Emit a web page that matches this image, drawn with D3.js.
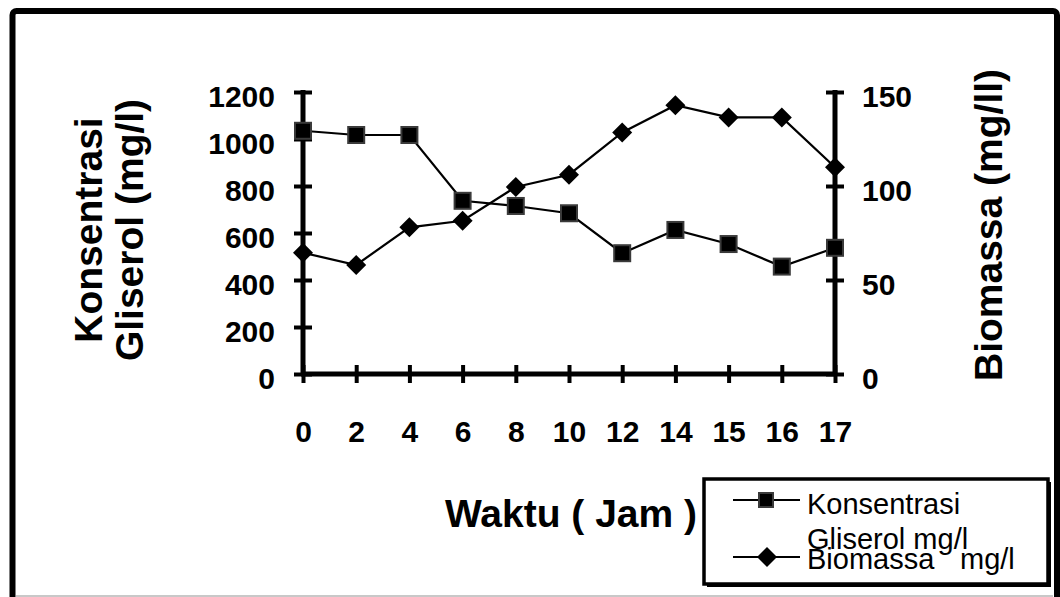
<!DOCTYPE html>
<html>
<head>
<meta charset="utf-8">
<script src="https://cdn.jsdelivr.net/npm/d3@7"></script>
<style>
  html, body { margin: 0; padding: 0; background: #fff; }
  svg { display: block; font-family: "Liberation Sans", Arial, sans-serif; }
</style>
</head>
<body>
<svg id="chart" width="1060" height="597"></svg>
<script>
// ---- data ----
const categories = ["0", "2", "4", "6", "8", "10", "12", "14", "15", "16", "17"];
const gliserol = [1035, 1017, 1017, 737, 715, 684, 514, 613, 553, 457, 537];
const biomassa = [64.5, 58, 78, 81.5, 99.5, 106, 128.5, 143, 136.5, 136.5, 110];
const leftTicks = [0, 200, 400, 600, 800, 1000, 1200];
const rightTicks = [0, 50, 100, 150];
const leftTitle = ["Konsentrasi", "Gliserol (mg/l)"];
const rightTitle = "Biomassa (mg/ll)";
const xTitle = "Waktu ( Jam )";
const legendLabels = ["Konsentrasi", "Gliserol mg/l", "Biomassa", "mg/l"];

// ---- layout ----
const L = 303, R = 835, T = 92, B = 374;
const svg = d3.select("#chart");
const tf = "'Liberation Sans', Arial, sans-serif";

// outer frame
svg.append("rect").attr("x", 12.5).attr("y", 11).attr("width", 1044.5).attr("height", 620)
  .attr("rx", 4).attr("fill", "none").attr("stroke", "#000").attr("stroke-width", 6);
svg.append("line").attr("x1", 16).attr("x2", 1053).attr("y1", 596).attr("y2", 596)
  .attr("stroke", "#c8c8c8").attr("stroke-width", 2);

const x = d3.scalePoint().domain(categories).range([L, R]);
const yL = d3.scaleLinear().domain([0, 1200]).range([B, T]);
const yR = d3.scaleLinear().domain([0, 150]).range([B, T]);

const axisW = 5, tickHalf = 9;

function styleAxis(g, horizontal) {
  g.select(".domain").remove();
  g.selectAll(".tick line").attr("stroke", "#000").attr("stroke-width", 4);
  if (horizontal) g.selectAll(".tick line").attr("y1", -tickHalf).attr("y2", tickHalf);
  else g.selectAll(".tick line").attr("x1", -tickHalf).attr("x2", tickHalf);
  g.selectAll(".tick text").attr("font-size", 30).attr("font-weight", "bold").attr("fill", "#000")
    .attr("font-family", tf);
}

// left axis
const gL = svg.append("g").attr("transform", `translate(${L},0)`)
  .call(d3.axisLeft(yL).tickValues(leftTicks).tickFormat(d3.format("d")).tickSize(0).tickPadding(28));
styleAxis(gL, false);
gL.selectAll(".tick text").attr("dy", "0.48em");
gL.append("line").attr("x1", 0).attr("x2", 0).attr("y1", T - 2).attr("y2", B + 2)
  .attr("stroke", "#000").attr("stroke-width", axisW);

// right axis
const gR = svg.append("g").attr("transform", `translate(${R},0)`)
  .call(d3.axisRight(yR).tickValues(rightTicks).tickFormat(d3.format("d")).tickSize(0).tickPadding(27));
styleAxis(gR, false);
gR.selectAll(".tick text").attr("dy", "0.48em");
gR.append("line").attr("x1", 0).attr("x2", 0).attr("y1", T - 2).attr("y2", B + 2)
  .attr("stroke", "#000").attr("stroke-width", axisW);

// bottom axis
const gB = svg.append("g").attr("transform", `translate(0,${B})`)
  .call(d3.axisBottom(x).tickSize(0).tickPadding(68));
styleAxis(gB, true);
gB.selectAll(".tick text").attr("dy", "0");
gB.append("line").attr("x1", L - 2).attr("x2", R + 2).attr("y1", 0).attr("y2", 0)
  .attr("stroke", "#000").attr("stroke-width", axisW);

// series: gliserol (squares)
const lineL = d3.line().x((d, i) => x(categories[i])).y(d => yL(d));
svg.append("path").datum(gliserol).attr("d", lineL)
  .attr("fill", "none").attr("stroke", "#000").attr("stroke-width", 2.2);
const sq = 16;
svg.append("g").selectAll("rect").data(gliserol).join("rect")
  .attr("x", (d, i) => x(categories[i]) - sq / 2).attr("y", d => yL(d) - sq / 2)
  .attr("width", sq).attr("height", sq)
  .attr("fill", "#000").attr("stroke", "#3a3a3a").attr("stroke-width", 2);

// series: biomassa (diamonds)
const lineR = d3.line().x((d, i) => x(categories[i])).y(d => yR(d));
svg.append("path").datum(biomassa).attr("d", lineR)
  .attr("fill", "none").attr("stroke", "#000").attr("stroke-width", 2.2);
const dh = 10;
const diamond = (cx, cy) => `M${cx},${cy - dh}L${cx + dh},${cy}L${cx},${cy + dh}L${cx - dh},${cy}Z`;
svg.append("g").selectAll("path").data(biomassa).join("path")
  .attr("d", (d, i) => diamond(x(categories[i]), yR(d)))
  .attr("fill", "#000");

// axis titles
const titleSize = 39;
svg.append("text").attr("transform", "translate(102,230) rotate(-90)")
  .attr("text-anchor", "middle").attr("font-size", titleSize).attr("font-weight", "bold")
  .attr("font-family", tf).text(leftTitle[0]);
svg.append("text").attr("transform", "translate(143,230) rotate(-90)")
  .attr("text-anchor", "middle").attr("font-size", titleSize).attr("font-weight", "bold")
  .attr("font-family", tf).text(leftTitle[1]);
svg.append("text").attr("transform", "translate(1002,225) rotate(-90)")
  .attr("text-anchor", "middle").attr("font-size", titleSize).attr("font-weight", "bold")
  .attr("font-family", tf).text(rightTitle);
svg.append("text").attr("x", 571).attr("y", 527)
  .attr("text-anchor", "middle").attr("font-size", titleSize).attr("font-weight", "bold")
  .attr("font-family", tf).text(xTitle);

// legend
const lg = svg.append("g");
lg.append("rect").attr("x", 707).attr("y", 482).attr("width", 344).attr("height", 105)
  .attr("fill", "#000");
lg.append("rect").attr("x", 704).attr("y", 479).attr("width", 344).attr("height", 105)
  .attr("fill", "#fff").attr("stroke", "#000").attr("stroke-width", 3.5);
lg.append("line").attr("x1", 733).attr("x2", 800).attr("y1", 500).attr("y2", 500)
  .attr("stroke", "#000").attr("stroke-width", 2);
lg.append("rect").attr("x", 759).attr("y", 493).attr("width", 14).attr("height", 14)
  .attr("fill", "#000").attr("stroke", "#3a3a3a").attr("stroke-width", 2);
lg.append("line").attr("x1", 733).attr("x2", 800).attr("y1", 557).attr("y2", 557)
  .attr("stroke", "#000").attr("stroke-width", 2);
lg.append("path").attr("d", `M767,547L777,557L767,567L757,557Z`).attr("fill", "#000");
const lt = (xx, yy, s) => lg.append("text").attr("x", xx).attr("y", yy)
  .attr("font-size", 29).attr("font-family", tf).attr("fill", "#000").text(s);
lt(807, 514, legendLabels[0]);
lt(807, 549, legendLabels[1]);
lt(807, 569, legendLabels[2]);
lt(960, 569, legendLabels[3]);
</script>
</body>
</html>
